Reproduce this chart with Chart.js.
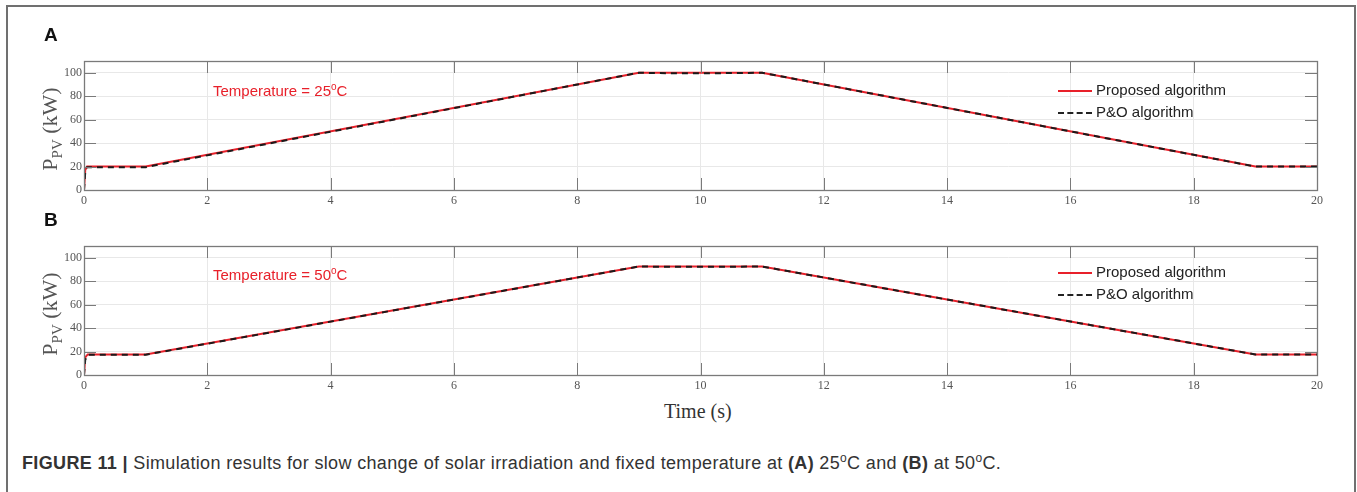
<!DOCTYPE html>
<html>
<head>
<meta charset="utf-8">
<script src="https://cdn.jsdelivr.net/npm/chart.js@4.4.0/dist/chart.umd.min.js"></script>
<style>
  body { margin: 0; background: #fff; width: 1357px; height: 492px; overflow: hidden; position: relative; }
  .frame { position: absolute; left: 6px; top: 5px; width: 1346px; height: 520px; border: 2px solid #707070; }
  .cv { position: absolute; left: 0; }
  .panel { position: absolute; font: bold 19px "Liberation Sans", Arial, sans-serif; color: #111; }
  .ytitle { position: absolute; font: 22px "Liberation Serif", "Times New Roman", serif; color: #555; white-space: nowrap;
            transform: translate(-50%, -50%) rotate(-90deg); }
  .ytitle sub { font-size: 15px; vertical-align: -5px; }
  .temp { position: absolute; font: 15px "Liberation Sans", Arial, sans-serif; color: #e8202a; white-space: nowrap; }
  .temp sup { font-size: 10px; vertical-align: 6px; }
  .leg { position: absolute; font: 15px "Liberation Sans", Arial, sans-serif; color: #222; white-space: nowrap; }
  .leg span.ln { display: inline-block; width: 34px; margin-right: 4px; vertical-align: middle; }
  .xtitle { position: absolute; font: 20px "Liberation Serif", "Times New Roman", serif; color: #333; }
  .cap { position: absolute; left: 22px; top: 451px; font: 18px "Liberation Sans", Arial, sans-serif; letter-spacing: 0.35px; color: #333; white-space: nowrap; }
  .cap sup { font-size: 12px; vertical-align: 7px; }
</style>
</head>
<body>
<div class="frame"></div>
<canvas id="chartA" class="cv" style="top:0"></canvas>
<canvas id="chartB" class="cv" style="top:215px"></canvas>

<div class="panel" style="left:44px; top:24px">A</div>
<div class="panel" style="left:44px; top:209px">B</div>

<div class="ytitle" style="left:51px; top:129px">P<sub>PV</sub> (kW)</div>
<div class="ytitle" style="left:51px; top:314px">P<sub>PV</sub> (kW)</div>

<div class="temp" style="left:213px; top:81px">Temperature = 25<sup>o</sup>C</div>
<div class="temp" style="left:213px; top:265px">Temperature = 50<sup>o</sup>C</div>

<div class="leg" style="left:1058px; top:81px"><span class="ln" style="border-top:2px solid #e8202a"></span>Proposed algorithm</div>
<div class="leg" style="left:1058px; top:103px"><span class="ln" style="border-top:2px dashed #222"></span>P&amp;O algorithm</div>
<div class="leg" style="left:1058px; top:263px"><span class="ln" style="border-top:2px solid #e8202a"></span>Proposed algorithm</div>
<div class="leg" style="left:1058px; top:285px"><span class="ln" style="border-top:2px dashed #222"></span>P&amp;O algorithm</div>

<div class="xtitle" style="left:664px; top:400px">Time (s)</div>

<div class="cap"><b>FIGURE 11 |</b> Simulation results for slow change of solar irradiation and fixed temperature at <b>(A)</b> 25<sup>o</sup>C and <b>(B)</b> at 50<sup>o</sup>C.</div>

<script>
// time axis (s) and PV power (kW)
const timeA = [0, 0.02, 0.05, 1, 9, 9.6, 10.3, 11, 19, 20];
const proposedA = [0, 17, 20, 20, 100, 100, 100, 100, 20, 20];
const poA = [0, 15, 19.5, 19.5, 100, 99.5, 99.6, 100, 20, 20];

const timeB = [0, 0.02, 0.06, 1, 9, 9.6, 10.3, 11, 19, 20];
const proposedB = [0, 15, 17.5, 17.5, 92.5, 92.5, 92.5, 92.5, 17.5, 17.5];
const poB = [0, 13, 17.3, 17.3, 92.5, 92.2, 92.3, 92.5, 17.5, 17.5];

const xTicks = [0, 2, 4, 6, 8, 10, 12, 14, 16, 18, 20];
const yTicks = [0, 20, 40, 60, 80, 100];

const toXY = (t, v) => t.map((x, i) => ({ x: x, y: v[i] }));

// matlab style box + inward ticks
const boxPlugin = {
  id: 'box',
  afterDraw(chart) {
    const { ctx, chartArea: a, scales } = chart;
    ctx.save();
    ctx.strokeStyle = '#7a7a7a';
    ctx.lineWidth = 1;
    ctx.beginPath();
    xTicks.forEach(v => {
      const px = Math.round(scales.x.getPixelForValue(v)) + 0.5;
      ctx.moveTo(px, a.bottom); ctx.lineTo(px, a.bottom - 12);
      ctx.moveTo(px, a.top); ctx.lineTo(px, a.top + 12);
    });
    yTicks.forEach(v => {
      const py = Math.round(scales.y.getPixelForValue(v)) + 0.5;
      ctx.moveTo(a.left, py); ctx.lineTo(a.left + 12, py);
      ctx.moveTo(a.right, py); ctx.lineTo(a.right - 12, py);
    });
    ctx.stroke();
    ctx.lineWidth = 1.3;
    ctx.strokeRect(Math.round(a.left) + 0.5, Math.round(a.top) + 0.5, Math.round(a.right - a.left), Math.round(a.bottom - a.top));
    ctx.restore();
  }
};

function makeChart(id, height, padTop, t, prop, po) {
  const el = document.getElementById(id);
  el.width = 1357; el.height = height;
  el.style.width = '1357px'; el.style.height = height + 'px';
  return new Chart(el, {
    type: 'line',
    data: {
      datasets: [
        { label: 'Proposed algorithm', data: toXY(t, prop), borderColor: '#e8202a', borderWidth: 2, pointRadius: 0, tension: 0, order: 1 },
        { label: 'P&O algorithm', data: toXY(t, po), borderColor: '#1a1a1a', borderWidth: 2, borderDash: [6, 5], pointRadius: 0, tension: 0, order: 0 }
      ]
    },
    options: {
      responsive: false,
      animation: false,
      layout: { padding: { left: 54, right: 40, top: padTop, bottom: 5 } },
      plugins: { legend: { display: false }, tooltip: { enabled: false } },
      scales: {
        x: {
          type: 'linear', min: 0, max: 20,
          afterBuildTicks: s => { s.ticks = xTicks.map(v => ({ value: v })); },
          afterFit: s => { s.height = 20; },
          grid: { color: '#e8e8e8', drawTicks: false },
          border: { display: false },
          ticks: { padding: 4, maxRotation: 0, color: '#555', font: { family: 'Liberation Serif', size: 12 } }
        },
        y: {
          min: 0, max: 110,
          afterBuildTicks: s => { s.ticks = yTicks.map(v => ({ value: v })); },
          afterFit: s => { s.width = 30; },
          grid: { color: '#e8e8e8', drawTicks: false },
          border: { display: false },
          ticks: { padding: 2, color: '#555', font: { family: 'Liberation Serif', size: 12 } }
        }
      }
    },
    plugins: [boxPlugin]
  });
}

makeChart('chartA', 215, 61, timeA, proposedA, poA);
makeChart('chartB', 185, 31, timeB, proposedB, poB);
</script>
</body>
</html>
